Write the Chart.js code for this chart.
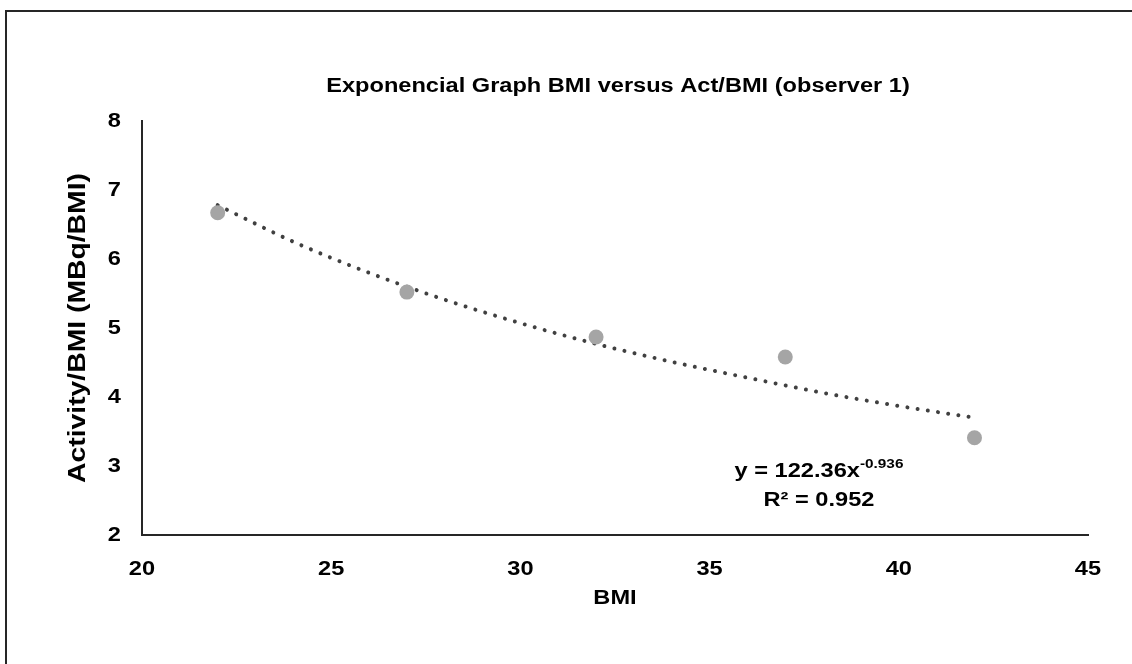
<!DOCTYPE html>
<html>
<head>
<meta charset="utf-8">
<script src="https://cdn.jsdelivr.net/npm/chart.js@4.4.1/dist/chart.umd.min.js"></script>
<style>
  html, body { margin: 0; padding: 0; background: #fff; }
  #wrap { position: relative; width: 1132px; height: 664px; overflow: hidden; }
  #frame { position: absolute; left: 5px; top: 10px; right: -10px; bottom: -10px;
           border-top: 2px solid #262626; border-left: 2px solid #262626; pointer-events: none; }
  canvas { position: absolute; left: 0; top: 0; }
</style>
</head>
<body>
<div id="wrap">
  <canvas id="chart" width="1132" height="664"></canvas>
  <div id="frame"></div>
</div>
<script>
/*
* Data
*/
// BMI of each group (x) and measured activity / BMI (y)
var bmi = [22, 27, 32, 37, 42]
var actPerBmi = [6.67, 5.52, 4.87, 4.58, 3.41]

// power trendline as drawn
var trendX = [22, 24, 26, 28, 30, 32, 34, 36, 38, 40, 42]
var trendY = [6.78, 6.25, 5.80, 5.41, 5.07, 4.77, 4.51, 4.28, 4.06, 3.87, 3.70]

var xTicks = [20, 25, 30, 35, 40, 45]
var yTicks = [2, 3, 4, 5, 6, 7, 8]

var chartTitle = 'Exponencial Graph BMI versus Act/BMI (observer 1)'
var equation = 'y = 122.36x'
var exponent = '-0.936'
var rSquared = 'R\u00b2 = 0.952'

var FONT = '"Liberation Sans", Arial, sans-serif'

// the original text is drawn a bit wider than plain Arial
var SX = 1.18

function zip(xs, ys) {
	return xs.map(function (x, i) { return {x: x, y: ys[i]} })
}

var canvas = document.getElementById('chart')
var ctx2d = canvas.getContext('2d')
var baseFill = ctx2d.fillText.bind(ctx2d)
var baseMeasure = ctx2d.measureText.bind(ctx2d)
ctx2d.fillText = function (text, x, y, maxWidth) {
	ctx2d.save()
	ctx2d.translate(x, y)
	ctx2d.scale(SX, 1)
	baseFill(text, 0, 0)
	ctx2d.restore()
}
ctx2d.measureText = function (text) {
	var m = baseMeasure(text)
	return {
		width: m.width * SX,
		actualBoundingBoxAscent: m.actualBoundingBoxAscent,
		actualBoundingBoxDescent: m.actualBoundingBoxDescent,
		actualBoundingBoxLeft: m.actualBoundingBoxLeft * SX,
		actualBoundingBoxRight: m.actualBoundingBoxRight * SX
	}
}

// title + trendline label
var textPlugin = {
	id: 'texts',
	afterDraw: function (chart) {
		var ctx = chart.ctx
		ctx.save()
		ctx.fillStyle = '#000'
		ctx.textBaseline = 'alphabetic'

		ctx.font = 'bold 20px ' + FONT
		ctx.textAlign = 'center'
		ctx.fillText(chartTitle, 618, 92)

		// equation with superscript exponent
		ctx.font = 'bold 20px ' + FONT
		var w1 = ctx.measureText(equation).width
		ctx.font = 'bold 13px ' + FONT
		var w2 = ctx.measureText(exponent).width
		var x0 = 819 - (w1 + w2) / 2
		ctx.textAlign = 'left'
		ctx.font = 'bold 20px ' + FONT
		ctx.fillText(equation, x0, 477)
		ctx.font = 'bold 13px ' + FONT
		ctx.fillText(exponent, x0 + w1, 468)

		ctx.font = 'bold 20px ' + FONT
		ctx.textAlign = 'center'
		ctx.fillText(rSquared, 819, 506)
		ctx.restore()
	}
}

var chart = new Chart(canvas, {
	type: 'scatter',
	data: {
		datasets: [
			{
				label: 'trend',
				type: 'line',
				data: zip(trendX, trendY),
				borderColor: '#404040',
				borderWidth: 4,
				borderDash: [0.01, 10.3],
				borderCapStyle: 'round',
				cubicInterpolationMode: 'monotone',
				pointRadius: 0,
				fill: false,
				order: 2
			},
			{
				label: 'observer 1',
				data: zip(bmi, actPerBmi),
				backgroundColor: '#A5A5A5',
				borderColor: '#A5A5A5',
				pointRadius: 7.5,
				pointBorderWidth: 0,
				order: 1
			}
		]
	},
	options: {
		responsive: false,
		animation: false,
		layout: {padding: {left: 0, top: 121, right: 44, bottom: 0}},
		plugins: {
			legend: {display: false},
			tooltip: {enabled: false},
			title: {display: false}
		},
		scales: {
			x: {
				type: 'linear',
				min: 20, max: 45,
				afterBuildTicks: function (s) { s.ticks = xTicks.map(function (v) { return {value: v} }) },
				afterFit: function (s) { s.height = 129 },
				grid: {display: false, drawTicks: false},
				border: {display: true, color: '#262626', width: 2},
				ticks: {color: '#000', padding: 22, font: {family: FONT, size: 20, weight: 'bold'}},
				title: {display: true, text: 'BMI', color: '#000',
					padding: {top: 0, bottom: 54}, font: {family: FONT, size: 20, weight: 'bold'}}
			},
			y: {
				type: 'linear',
				min: 2, max: 8,
				afterBuildTicks: function (s) { s.ticks = yTicks.map(function (v) { return {value: v} }) },
				afterFit: function (s) { s.width = 142 },
				grid: {display: false, drawTicks: false},
				border: {display: true, color: '#262626', width: 2},
				ticks: {color: '#000', padding: 21, font: {family: FONT, size: 20, weight: 'bold'}},
				title: {display: true, text: 'Activity/BMI (MBq/BMI)', color: '#000',
					padding: {top: 64, bottom: 0}, font: {family: FONT, size: 24, weight: 'bold'}}
			}
		}
	},
	plugins: [textPlugin]
})
</script>
</body>
</html>
